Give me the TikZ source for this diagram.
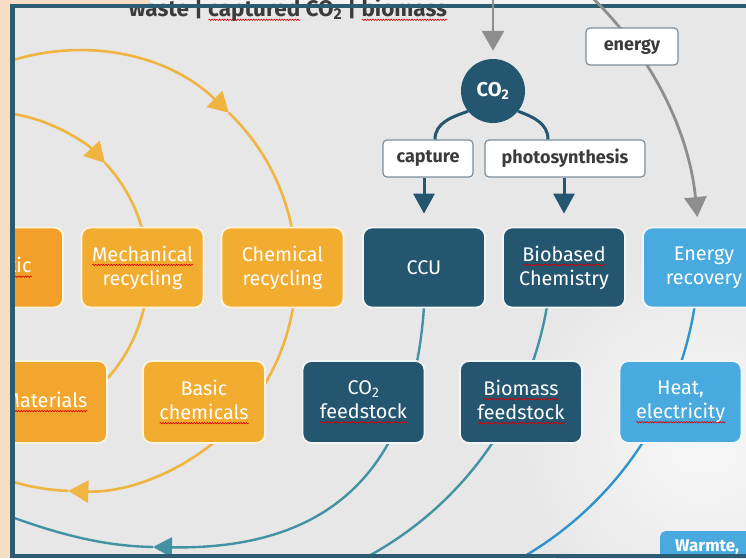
\documentclass[tikz,border=0pt]{standalone}
\usepackage{fontspec}
\setmainfont{Fira Sans}
\usetikzlibrary{arrows.meta,decorations.pathmorphing}

\definecolor{paper}{HTML}{F6DEC4}
\definecolor{canvas}{HTML}{E7E7E7}
\definecolor{frame}{HTML}{2B5C72}
\definecolor{recorange}{HTML}{F2AC30}
\definecolor{deeporange}{HTML}{F3A02A}
\definecolor{orangeline}{HTML}{F0B441}
\definecolor{rimcream}{HTML}{FFF4DC}
\definecolor{rimwhite}{HTML}{F2F5F7}
\definecolor{carbteal}{HTML}{245670}
\definecolor{tealline}{HTML}{4392A3}
\definecolor{enblue}{HTML}{48AADE}
\definecolor{blueline}{HTML}{2F93CC}
\definecolor{feedgray}{HTML}{8E8E8E}
\definecolor{tagrim}{HTML}{7D8D99}
\definecolor{tagtext}{HTML}{3B3B3B}

% red wavy mark under a word
\newsavebox{\spellbox}
\newlength{\spellwd}
\newcommand{\spellmark}[1]{\sbox{\spellbox}{#1}\setlength{\spellwd}{\wd\spellbox}%
  \rlap{\tikz[baseline=0pt]\draw[sharp corners,red!85!black,line width=0.6pt,decorate,decoration={snake,amplitude=0.7pt,segment length=2.6pt}] (0pt,-3.8pt) -- (\spellwd,-3.8pt);}\usebox{\spellbox}}

\begin{document}
\begin{tikzpicture}[x=1pt,y=1pt,
    box/.style={rounded corners=9pt, minimum width=122pt, minimum height=80pt, align=center, text=white, line width=1.8pt, inner sep=2pt, font=\fontsize{19.8}{24}\selectfont},
    recbox/.style={box, fill=recorange, draw=rimcream},
    carbbox/.style={box, fill=carbteal, draw=rimwhite},
    enbox/.style={box, fill=enblue, draw=rimwhite},
    tag/.style={fill=white, draw=tagrim, line width=1.2pt, rounded corners=4pt, minimum height=37pt, text=tagtext, font=\bfseries\fontsize{18}{20}\selectfont},
    orangearc/.style={orangeline, line width=2.6pt},
    tealarc/.style={tealline, line width=2.4pt},
    bluearc/.style={blueline, line width=2.4pt},
    feedarc/.style={feedgray, line width=2.8pt},
    carbline/.style={carbteal, line width=3pt},
    tip/.style={-{Triangle[length=20pt,width=22pt]}}]
    \useasboundingbox (0,0) rectangle (746,-558);
    \fill[paper] (0,0) rectangle (746,-558);
    \fill[canvas!50!white] (150,0) rectangle (746,-6);
    \fill[canvas] (12.5,-6) rectangle (760,-556);
    \shade[inner color=white!70!canvas, outer color=canvas] (705,-440) circle[radius=190];

    \coordinate (recA) at (-12,-272);
    \coordinate (recB) at (76,-271);
    \coordinate (bioC) at (200,-247);
    \coordinate (enC) at (345,-251);
    \coordinate (ccuout) at (425,-285);
    \coordinate (co2tip) at (153,-547);
    \coordinate (co2end) at (-25,-503);

    \begin{scope}
        \clip (12.5,-6) rectangle (746,-556);
        % recycling loops
        \draw[orangearc,tip] (recA) ++(-200:160) arc[start angle=-200,end angle=-317,radius=160];
        \draw[orangearc] (recA) ++(-317:160) arc[start angle=-317,end angle=-420,radius=160];
        \draw[orangearc,tip] (recB) ++(-240:220) arc[start angle=-240,end angle=-314,radius=220];
        \draw[orangearc,tip] (recB) ++(-314:220) arc[start angle=-314,end angle=-452,radius=220];
        \draw[orangearc] (recB) ++(-452:220) arc[start angle=-452,end angle=-480,radius=220];
        % carbon loops
        \draw[tealarc,-{Triangle[length=19pt,width=20pt]}] (ccuout) .. controls (420,-470) and (330,-550) .. (co2tip);
        \draw[tealarc] (co2tip) .. controls (100,-546) and (50,-533) .. (co2end);
        \draw[tealarc] (bioC) ++(0:352) arc[start angle=0,end angle=-75,radius=352];
        \draw[bluearc] (enC) ++(-3:354) arc[start angle=-3,end angle=-75,radius=354];

        \node[recbox, fill=deeporange] (plastic) at (2,-267.5) {\spellmark{Plastic}};
        \node[recbox] (mech) at (142.5,-267.5) {\spellmark{Mechanical}\\recycling};
        \node[recbox] (chem) at (282.5,-267.5) {Chemical\\recycling};
        \node[carbbox] (ccu) at (424,-267.5) {CCU};
        \node[carbbox] (bio) at (564,-267.5) {\spellmark{Biobased}\\Chemistry};
        \node[enbox] (enrec) at (704,-267.5) {Energy\\recovery};

        \node[recbox, fill=deeporange!50!recorange, minimum height=82pt] (mat) at (46,-402) {\spellmark{Materials}};
        \node[recbox, minimum height=82pt] (basic) at (204,-402) {Basic\\\spellmark{chemicals}};
        \node[carbbox, minimum height=82pt] (co2f) at (363.5,-402) {CO\textsubscript{2}\\\spellmark{feedstock}};
        \node[carbbox, minimum height=82pt] (biomf) at (521,-402) {\spellmark{Biomass}\\\spellmark{feedstock}};
        \node[enbox, minimum height=82pt] (heat) at (680.5,-402) {Heat,\\\spellmark{electricity}};

        \node[fill=enblue, rounded corners=5pt, text=white, anchor=base west, inner xsep=15pt, inner ysep=8pt, font=\bfseries\fontsize{17}{17}\selectfont] (warm) at (660,-551) {Warmte,};
    \end{scope}

    % inputs
    \node[anchor=base, text=tagtext, font=\bfseries\fontsize{22.5}{22.5}\selectfont] (source) at (288,-16) {waste | \spellmark{captured} CO\textsubscript{2} | \spellmark{biomass}};
    \draw[frame, line width=4.5pt] (760,-6) -- (12.5,-6) -- (12.5,-556) -- (760,-556);

    \node[circle, fill=carbteal, minimum size=64pt, inner sep=0pt, text=white, font=\bfseries\fontsize{20}{20}\selectfont] (co2) at (493,-91) {CO\textsubscript{2}};
    \coordinate (intake) at (493,5);
    \draw[feedarc,tip] (intake) -- ([yshift=8pt]co2.north);
    \draw[feedarc,tip] (enC) ++(50:354) arc[start angle=50,end angle=5.5,radius=354];
    \node[tag, minimum width=92pt] (energy) at (632,-46.5) {energy};

    \node[tag, minimum width=90pt] (capture) at (428,-158.5) {capture};
    \node[tag, minimum width=160pt] (photo) at (565,-158.5) {photosynthesis};
    \draw[carbline] (co2.219) to[out=200,in=90] ([xshift=7pt]capture.north);
    \draw[carbline] (co2.-39) to[out=-20,in=90] ([xshift=-17pt]photo.north);
    \draw[carbline,-{Triangle[length=20pt,width=21pt]}] (capture.south -| ccu.north) -- ([yshift=13pt]ccu.north);
    \draw[carbline,-{Triangle[length=20pt,width=21pt]}] (photo.south -| bio.north) -- ([yshift=13pt]bio.north);
\end{tikzpicture}
\end{document}
